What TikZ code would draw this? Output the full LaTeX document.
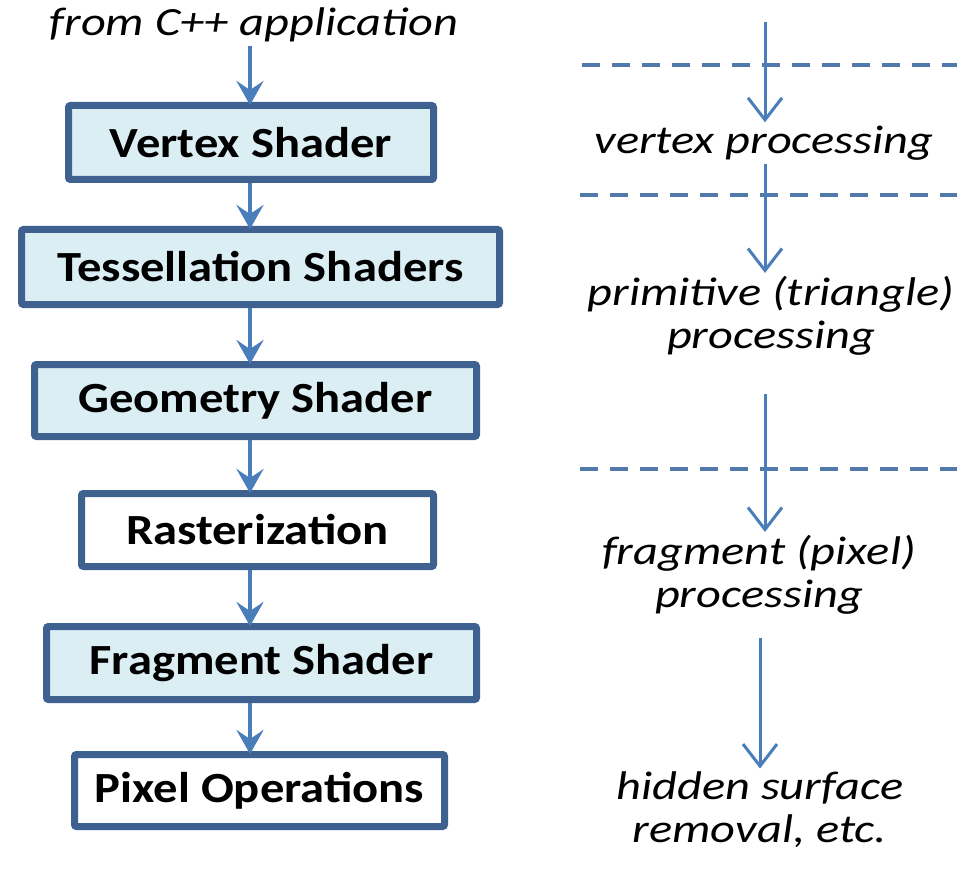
\documentclass[tikz,border=0pt]{standalone}
\usepackage{fontspec}
\setmainfont{Carlito}[FakeStretch=1.13]
\newfontfamily\notefont{Carlito}[FakeStretch=1.21]
\usetikzlibrary{arrows.meta}

\definecolor{boxedge}{HTML}{3F6190}
\definecolor{boxfill}{HTML}{DBEEF4}
\definecolor{flowblue}{HTML}{4A7EBB}
\definecolor{dashblue}{HTML}{5279AC}

\tikzstyle{stage} = [draw=boxedge,line width=7pt,rounded corners=2pt,inner sep=0pt,
	font=\fontsize{43}{46}\selectfont\bfseries]
\tikzstyle{shader} = [stage,fill=boxfill]
\tikzstyle{fixed} = [stage,fill=white]
\tikzstyle{note} = [align=center,font=\notefont\fontsize{40}{43}\selectfont\itshape]
\tikzstyle{flow} = [draw=flowblue,line width=4pt,-{Stealth[length=24pt,width=27pt,inset=9pt]}]
\tikzstyle{phase} = [draw=flowblue,line width=3pt,-{Straight Barb[length=22pt,width=34pt]}]
\tikzstyle{divider} = [draw=dashblue,line width=4pt,dash pattern=on 18pt off 12pt]

\begin{document}
\begin{tikzpicture}[x=1pt,y=-1pt]
	\useasboundingbox (0,0) rectangle (957,882);
	\coordinate (lane) at (250,0);
	\node[note] (src) at (254,25) {from C++ application};
	\node[shader,minimum width=365pt,minimum height=74pt] (vs) at (251,142.5) {Vertex Shader};
	\node[shader,minimum width=478pt,minimum height=75pt] (ts) at (260.5,267) {Tessellation Shaders};
	\node[shader,minimum width=442pt,minimum height=72pt] (gs) at (255.5,400.5) {Geometry Shader};
	\node[fixed,minimum width=352pt,minimum height=73pt] (rs) at (257.5,530) {Rasterization};
	\node[shader,minimum width=430pt,minimum height=73pt] (fs) at (261.5,663) {Fragment Shader};
	\node[fixed,minimum width=370pt,minimum height=72pt] (po) at (259.5,790.5) {Pixel Operations};
	\draw[flow] (src.south -| lane) -- ([yshift=-3pt]vs.north -| lane);
	\draw[flow] (vs.south -| lane) -- ([yshift=-3pt]ts.north -| lane);
	\draw[flow] (ts.south -| lane) -- ([yshift=-3pt]gs.north -| lane);
	\draw[flow] (gs.south -| lane) -- ([yshift=-3pt]rs.north -| lane);
	\draw[flow] (rs.south -| lane) -- ([yshift=-3pt]fs.north -| lane);
	\draw[flow] (fs.south -| lane) -- ([yshift=-3pt]po.north -| lane);
	% right column
	\coordinate (top) at (765,22);
	\node[note] (vp) at (764,143) {vertex processing};
	\node[note] (pp) at (771,316) {primitive (triangle)\\processing};
	\node[note] (fp) at (759,575) {fragment (pixel)\\processing};
	\node[note] (hs) at (760,810) {hidden surface\\removal, etc.};
	\draw[divider] (582,65) -- (957,65);
	\draw[divider] (580,195) -- (957,195);
	\draw[divider] (580,469) -- (957,469);
	\draw[phase] (top) -- (vp.north -| top);
	\draw[phase] (vp.south -| top) -- (pp.north -| top);
	\draw[phase,shorten <=35pt] (pp.south -| top) -- (fp.north -| top);
	\draw[phase,shorten <=20pt] (fp.south -| hs.north) -- (hs.north);
\end{tikzpicture}
\end{document}
